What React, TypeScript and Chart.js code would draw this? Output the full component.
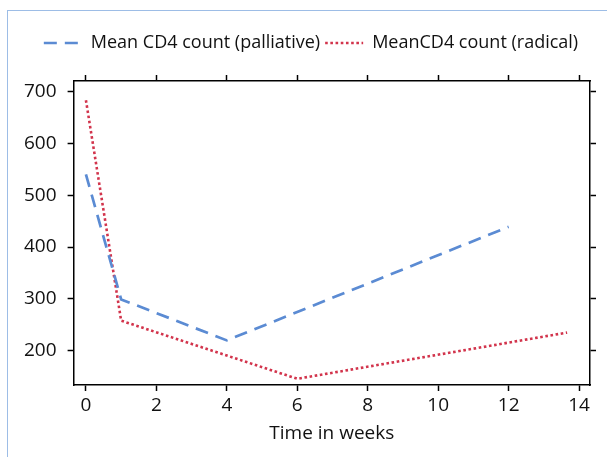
import React, { useEffect, useRef } from "react";
import { Chart, registerables } from "chart.js";

Chart.register(...registerables);

const weeksPalliative = [0, 1, 4, 12];
const cd4Palliative = [540, 299, 220, 439];
const weeksRadical = [0, 1, 6, 13.66];
const cd4Radical = [683, 258, 146, 235];
const xTicks = [0, 2, 4, 6, 8, 10, 12, 14];
const yTicks = [200, 300, 400, 500, 600, 700];
const labelPalliative = "Mean CD4 count (palliative)";
const labelRadical = "MeanCD4 count (radical)";
const xTitle = "Time in weeks";

const FONT = "'Open Sans', 'Noto Sans', sans-serif";

export default function App() {
  const ref = useRef<HTMLCanvasElement | null>(null);
  useEffect(() => {
    document.body.style.margin = "0";
    document.body.style.overflow = "hidden";
    if (!ref.current) return;
    const setTicks = (arr: number[]) => (scale: any) => {
      scale.ticks = arr.map((v) => ({ value: v }));
    };
    const xRange = { min: -0.35, max: 14.31 };
    const yRange = { min: 134, max: 720 };
    const axisCommon = {
      border: { display: true, color: "#000", width: 1.5 },
      grid: {
        drawOnChartArea: false,
        drawTicks: true,
        tickLength: 6,
        tickWidth: 1.5,
        tickColor: "#000",
      },
    };
    const defaultLabels = Chart.defaults.plugins.legend.labels.generateLabels;
    const chart = new Chart(ref.current, {
      type: "line",
      data: {
        datasets: [
          {
            label: labelPalliative,
            data: weeksPalliative.map((x, i) => ({ x, y: cd4Palliative[i] })),
            borderColor: "#5b8bd3",
            backgroundColor: "#5b8bd3",
            borderWidth: 2.7,
            borderDash: [13, 8],
            pointRadius: 0,
            tension: 0,
            xAxisID: "x",
            yAxisID: "y",
          },
          {
            label: labelRadical,
            data: weeksRadical.map((x, i) => ({ x, y: cd4Radical[i] })),
            borderColor: "#d2344c",
            backgroundColor: "#d2344c",
            borderWidth: 2.6,
            borderDash: [2.6, 2.6],
            pointRadius: 0,
            tension: 0,
            xAxisID: "x",
            yAxisID: "y",
          },
        ],
      },
      options: {
        animation: false,
        responsive: false,
        layout: { padding: { top: 29, left: 15, right: 0, bottom: 8 } },
        plugins: {
          tooltip: { enabled: false },
          legend: {
            display: true,
            position: "top",
            labels: {
              usePointStyle: true,
              pointStyle: "line",
              pointStyleWidth: 38,
              padding: 5,
              color: "#111",
              font: { family: FONT, size: 18 },
              generateLabels: (c: any) => {
                const items = defaultLabels(c);
                items.forEach((it: any) => {
                  const ds = c.data.datasets[it.datasetIndex];
                  it.lineDash = ds.borderDash;
                  it.lineWidth = ds.borderWidth;
                  it.strokeStyle = ds.borderColor;
                });
                return items;
              },
            },
          },
        },
        scales: {
          x: {
            type: "linear",
            position: "bottom",
            ...xRange,
            afterBuildTicks: setTicks(xTicks),
            afterFit: (s: any) => {
              s.height = 64;
            },
            ...axisCommon,
            ticks: { color: "#111", font: { family: FONT, size: 19 }, padding: 3, maxRotation: 0 },
            title: {
              display: true,
              text: xTitle,
              color: "#111",
              font: { family: FONT, size: 19 },
              padding: { top: 4, bottom: 4 },
            },
          },
          x2: {
            type: "linear",
            position: "top",
            ...xRange,
            afterBuildTicks: setTicks(xTicks),
            afterFit: (s: any) => {
              s.height = 19;
            },
            ...axisCommon,
            ticks: { display: false },
          },
          y: {
            type: "linear",
            position: "left",
            ...yRange,
            afterBuildTicks: setTicks(yTicks),
            afterFit: (s: any) => {
              s.width = 58.6;
            },
            ...axisCommon,
            ticks: { color: "#111", font: { family: FONT, size: 19 }, padding: 11 },
          },
          y2: {
            type: "linear",
            position: "right",
            ...yRange,
            afterBuildTicks: setTicks(yTicks),
            afterFit: (s: any) => {
              s.width = 17;
            },
            ...axisCommon,
            ticks: { display: false },
          },
        },
      },
    });
    return () => chart.destroy();
  }, []);
  return (
    <div style={{ position: "relative", width: 607, height: 457, overflow: "hidden", background: "#fff" }}>
      <div
        style={{
          position: "absolute",
          left: 7,
          top: 10,
          width: 700,
          height: 600,
          borderTop: "1.5px solid #9dbde6",
          borderLeft: "1.5px solid #9dbde6",
        }}
      />
      <canvas ref={ref} width={607} height={457} style={{ position: "absolute", left: 0, top: 0, display: "block" }} />
    </div>
  );
}
